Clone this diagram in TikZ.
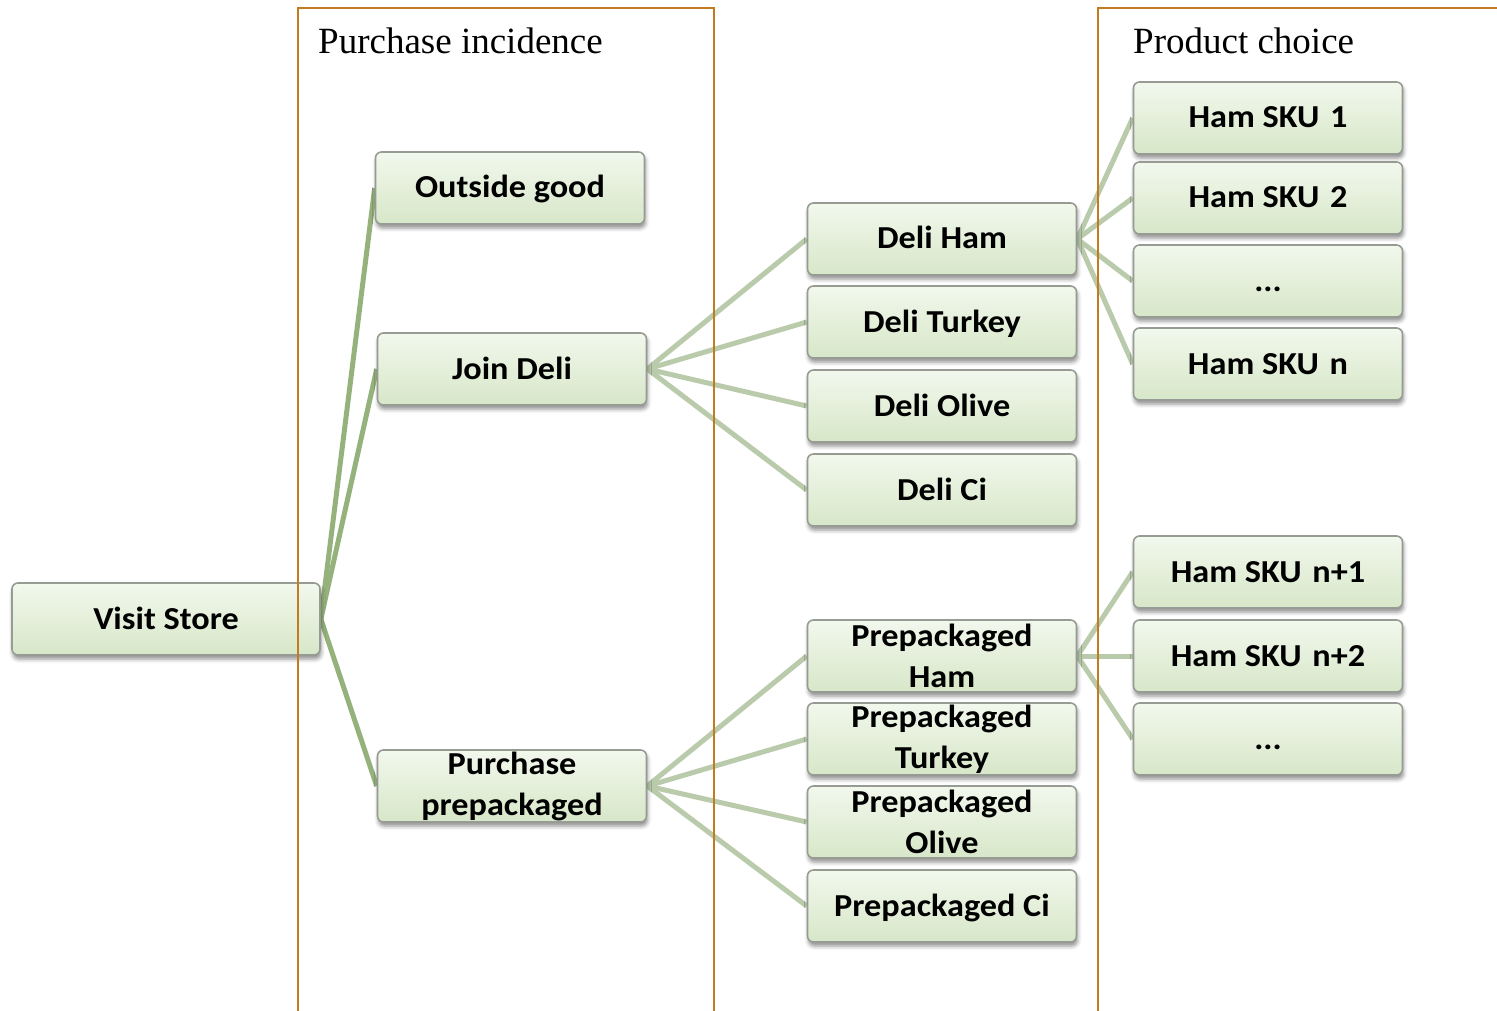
\documentclass[tikz,border=0pt]{standalone}
\usepackage{fontspec}
\setmainfont{Liberation Serif}
\newfontfamily\boxfont[FakeStretch=1.07]{Carlito}
\usetikzlibrary{shadows.blur}

\definecolor{frameorange}{RGB}{196,122,30}
\definecolor{boxtop}{RGB}{242,248,237}
\definecolor{boxbottom}{RGB}{215,231,200}
\definecolor{boxborder}{RGB}{150,155,148}
\definecolor{linkdark}{RGB}{150,178,124}
\definecolor{linklight}{RGB}{186,203,172}

\pgfdeclarelayer{background}
\pgfsetlayers{background,main}

\newcommand{\skugap}{\kern3pt}

\tikzset{
  box/.style={rectangle, rounded corners=6pt, draw=boxborder, line width=1.6pt,
    top color=boxtop, bottom color=boxbottom,
    minimum width=269pt, minimum height=72pt, inner sep=0pt,
    font=\boxfont\bfseries\fontsize{32}{41}\selectfont,
    blur shadow={shadow xshift=1pt, shadow yshift=-4pt,
      shadow blur radius=4pt, shadow opacity=45}},
  oneline/.style={box, text height=24pt, text depth=4pt},
  twoline/.style={box, align=center},
  link1/.style={line width=5pt, draw=linkdark},
  link2/.style={line width=5pt, draw=linklight},
  frameline/.style={draw=frameorange, line width=2pt},
  head/.style={font=\fontsize{37}{44}\selectfont, anchor=base west, inner sep=0pt}
}

\begin{document}
\begin{tikzpicture}[x=1pt, y=-1pt]
  \useasboundingbox (0,0) rectangle (1497,1011);

  % root
  \node[oneline, minimum width=308pt] (visit) at (166,619) {Visit Store};

  % purchase incidence
  \node[oneline] (outside) at (510,188) {Outside good};
  \node[oneline] (join)    at (512,369) {Join Deli};
  \node[twoline] (prepack) at (512,786) {Purchase\\prepackaged};

  % deli products
  \node[oneline] (dham)    at (942,239) {Deli Ham};
  \node[oneline] (dturkey) at (942,322) {Deli Turkey};
  \node[oneline] (dolive)  at (942,406) {Deli Olive};
  \node[oneline] (dci)     at (942,490) {Deli Ci};

  % prepackaged products
  \node[twoline] (pham)    at (942,656) {Prepackaged\\Ham};
  \node[twoline] (pturkey) at (942,739) {Prepackaged\\Turkey};
  \node[twoline] (polive)  at (942,822) {Prepackaged\\Olive};
  \node[oneline] (pci)     at (942,906) {Prepackaged Ci};

  % SKUs
  \node[oneline] (sku1)  at (1268,118) {Ham SKU\skugap{} 1};
  \node[oneline] (sku2)  at (1268,198) {Ham SKU\skugap{} 2};
  \node[oneline] (skud)  at (1268,281) {...};
  \node[oneline] (skun)  at (1268,364) {Ham SKU\skugap{} n};
  \node[oneline] (skun1) at (1268,572) {Ham SKU\skugap{} n+1};
  \node[oneline] (skun2) at (1268,656) {Ham SKU\skugap{} n+2};
  \node[oneline] (skud2) at (1268,739) {...};

  % connectors
  \begin{pgfonlayer}{background}
    \foreach \t in {outside, join, prepack}
      \draw[link1] (visit.east) -- (\t.west);
    \foreach \t in {dham, dturkey, dolive, dci}
      \draw[link2] (join.east) -- (\t.west);
    \foreach \t in {pham, pturkey, polive, pci}
      \draw[link2] (prepack.east) -- (\t.west);
    \foreach \t in {sku1, sku2, skud, skun}
      \draw[link2] (dham.east) -- (\t.west);
    \foreach \t in {skun1, skun2, skud2}
      \draw[link2] (pham.east) -- (\t.west);
  \end{pgfonlayer}

  % stage frames
  \draw[frameline] (298,1012) -- (298,8) -- (714,8) -- (714,1012);
  \draw[frameline] (1098,1012) -- (1098,8) -- (1498,8);
  \node[head] (hinc) at (318,54) {Purchase incidence};
  \node[head] (hprod) at (1133,54) {Product choice};
\end{tikzpicture}
\end{document}
